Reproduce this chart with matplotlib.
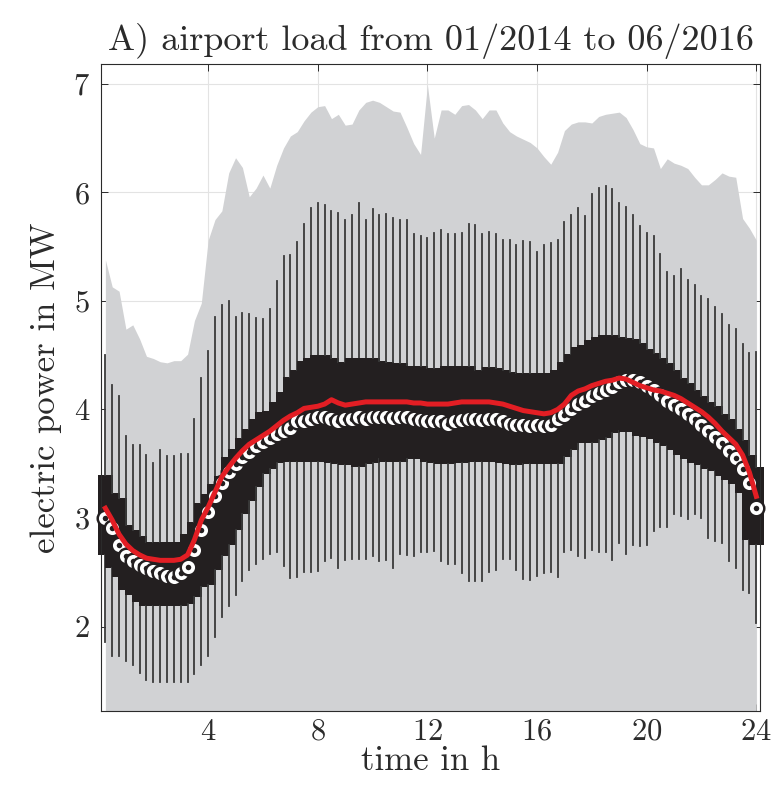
"""
Tagesgang der Flughafenlast 01/2014 - 06/2016: Boxplot je Viertelstunde,
Min/Max-Hülle grau, Median als Kreis, Mittelwert rot.
"""

import numpy as np
import matplotlib
matplotlib.use("Agg")
import matplotlib.pyplot as plt

plt.rcParams["font.family"] = "cmr10"
plt.rcParams["axes.formatter.use_mathtext"] = True

# Viertelstunden 0.25 ... 24 h
hours = np.arange(1, 97) * 0.25

# Kennwerte je Viertelstunde in MW (je Zeile 2 h)
whisker_hi = [
    4.50, 4.23, 4.12, 3.76, 3.67, 3.67, 3.58, 3.51,
    3.63, 3.57, 3.57, 3.59, 3.59, 3.91, 4.29, 4.54,
    4.85, 4.96, 5.00, 4.85, 4.89, 4.88, 4.84, 4.83,
    4.93, 5.18, 5.41, 5.42, 5.54, 5.71, 5.86, 5.90,
    5.88, 5.83, 5.81, 5.75, 5.79, 5.90, 5.75, 5.85,
    5.79, 5.80, 5.76, 5.75, 5.75, 5.62, 5.60, 5.58,
    5.63, 5.65, 5.62, 5.62, 5.63, 5.71, 5.70, 5.62,
    5.64, 5.62, 5.56, 5.56, 5.52, 5.55, 5.54, 5.45,
    5.52, 5.53, 5.56, 5.73, 5.79, 5.86, 5.78, 5.99,
    6.04, 6.06, 6.03, 5.90, 5.87, 5.79, 5.69, 5.63,
    5.60, 5.43, 5.27, 5.23, 5.29, 5.19, 5.15, 5.05,
    5.02, 4.94, 4.88, 4.78, 4.74, 4.60, 4.52, 4.53,
]
q3 = [
    3.40, 3.23, 3.18, 2.94, 2.89, 2.83, 2.78, 2.78,
    2.78, 2.78, 2.78, 2.78, 2.85, 2.96, 3.14, 3.22,
    3.31, 3.39, 3.56, 3.64, 3.74, 3.82, 3.91, 3.98,
    3.99, 4.07, 4.16, 4.30, 4.36, 4.45, 4.47, 4.50,
    4.50, 4.47, 4.44, 4.44, 4.47, 4.47, 4.47, 4.47,
    4.45, 4.44, 4.43, 4.43, 4.40, 4.40, 4.40, 4.38,
    4.38, 4.36, 4.40, 4.40, 4.40, 4.40, 4.36, 4.36,
    4.39, 4.38, 4.36, 4.35, 4.34, 4.34, 4.34, 4.33,
    4.34, 4.34, 4.36, 4.44, 4.51, 4.58, 4.59, 4.64,
    4.67, 4.69, 4.69, 4.67, 4.66, 4.65, 4.61, 4.56,
    4.52, 4.47, 4.43, 4.36, 4.29, 4.24, 4.18, 4.12,
    4.07, 4.03, 3.96, 3.91, 3.82, 3.72, 3.58, 3.47,
]
median = [
    3.00, 2.91, 2.75, 2.65, 2.60, 2.57, 2.54, 2.51,
    2.49, 2.47, 2.46, 2.49, 2.55, 2.71, 2.89, 3.06,
    3.20, 3.32, 3.42, 3.50, 3.56, 3.61, 3.66, 3.70,
    3.74, 3.77, 3.80, 3.83, 3.89, 3.89, 3.91, 3.93,
    3.93, 3.91, 3.89, 3.91, 3.91, 3.93, 3.91, 3.93,
    3.93, 3.93, 3.92, 3.93, 3.93, 3.91, 3.90, 3.89,
    3.89, 3.89, 3.87, 3.89, 3.90, 3.91, 3.91, 3.90,
    3.91, 3.91, 3.89, 3.87, 3.86, 3.86, 3.85, 3.86,
    3.85, 3.86, 3.91, 3.95, 4.00, 4.05, 4.08, 4.12,
    4.15, 4.18, 4.21, 4.25, 4.27, 4.27, 4.25, 4.22,
    4.18, 4.13, 4.08, 4.04, 4.00, 3.96, 3.91, 3.86,
    3.80, 3.75, 3.69, 3.62, 3.55, 3.45, 3.32, 3.09,
]
q1 = [
    2.66, 2.54, 2.46, 2.34, 2.29, 2.23, 2.19, 2.19,
    2.19, 2.19, 2.19, 2.19, 2.21, 2.27, 2.36, 2.38,
    2.52, 2.65, 2.75, 2.89, 3.04, 3.16, 3.29, 3.41,
    3.45, 3.51, 3.52, 3.52, 3.52, 3.52, 3.52, 3.52,
    3.53, 3.51, 3.50, 3.49, 3.49, 3.47, 3.50, 3.51,
    3.54, 3.52, 3.52, 3.52, 3.54, 3.55, 3.54, 3.52,
    3.51, 3.50, 3.50, 3.51, 3.51, 3.52, 3.52, 3.52,
    3.52, 3.52, 3.51, 3.50, 3.49, 3.50, 3.50, 3.50,
    3.50, 3.50, 3.50, 3.56, 3.63, 3.69, 3.69, 3.69,
    3.72, 3.74, 3.78, 3.80, 3.79, 3.79, 3.76, 3.75,
    3.73, 3.69, 3.66, 3.63, 3.58, 3.54, 3.51, 3.49,
    3.45, 3.43, 3.39, 3.35, 3.31, 3.23, 2.80, 2.75,
]
whisker_lo = [
    1.86, 1.73, 1.73, 1.68, 1.65, 1.57, 1.51, 1.49,
    1.49, 1.49, 1.49, 1.49, 1.49, 1.56, 1.65, 1.73,
    1.90, 2.09, 2.19, 2.29, 2.42, 2.52, 2.58, 2.62,
    2.67, 2.69, 2.56, 2.45, 2.46, 2.50, 2.50, 2.51,
    2.60, 2.63, 2.54, 2.61, 2.62, 2.62, 2.62, 2.65,
    2.60, 2.61, 2.54, 2.67, 2.66, 2.65, 2.69, 2.69,
    2.70, 2.60, 2.58, 2.58, 2.49, 2.42, 2.42, 2.42,
    2.50, 2.52, 2.62, 2.62, 2.52, 2.44, 2.43, 2.47,
    2.49, 2.50, 2.46, 2.69, 2.71, 2.65, 2.63, 2.71,
    2.69, 2.69, 2.61, 2.77, 2.67, 2.75, 2.74, 2.75,
    2.88, 2.92, 2.92, 3.04, 3.02, 2.99, 3.04, 3.00,
    2.82, 2.79, 2.77, 2.60, 2.54, 2.34, 2.31, 2.03,
]
mean = [
    3.09, 2.98, 2.85, 2.76, 2.70, 2.66, 2.63, 2.62,
    2.61, 2.61, 2.61, 2.62, 2.66, 2.80, 2.98, 3.10,
    3.24, 3.38, 3.47, 3.55, 3.62, 3.68, 3.72, 3.76,
    3.80, 3.85, 3.90, 3.94, 3.97, 4.01, 4.02, 4.03,
    4.05, 4.09, 4.06, 4.04, 4.05, 4.06, 4.07, 4.07,
    4.07, 4.07, 4.07, 4.07, 4.07, 4.06, 4.06, 4.05,
    4.05, 4.05, 4.05, 4.06, 4.07, 4.07, 4.07, 4.07,
    4.07, 4.06, 4.05, 4.03, 4.01, 3.99, 3.98, 3.97,
    3.96, 3.97, 4.00, 4.05, 4.13, 4.17, 4.19, 4.22,
    4.24, 4.26, 4.27, 4.29, 4.28, 4.25, 4.22, 4.20,
    4.18, 4.17, 4.15, 4.13, 4.10, 4.06, 4.02, 3.98,
    3.93, 3.87, 3.80, 3.74, 3.68, 3.58, 3.42, 3.20,
]
load_max = [
    5.38, 5.13, 5.09, 4.74, 4.78, 4.65, 4.49, 4.47,
    4.44, 4.43, 4.45, 4.45, 4.51, 4.82, 4.98, 5.56,
    5.75, 5.83, 6.18, 6.32, 6.23, 5.96, 6.04, 6.16,
    6.04, 6.25, 6.41, 6.52, 6.56, 6.66, 6.74, 6.79,
    6.80, 6.68, 6.72, 6.62, 6.63, 6.76, 6.83, 6.85,
    6.83, 6.79, 6.75, 6.74, 6.60, 6.45, 6.35, 6.99,
    6.50, 6.76, 6.76, 6.72, 6.80, 6.81, 6.76, 6.68,
    6.76, 6.76, 6.64, 6.56, 6.52, 6.49, 6.46, 6.41,
    6.33, 6.26, 6.37, 6.57, 6.63, 6.65, 6.65, 6.64,
    6.70, 6.72, 6.73, 6.74, 6.69, 6.58, 6.45, 6.42,
    6.41, 6.22, 6.31, 6.27, 6.25, 6.22, 6.14, 6.07,
    6.07, 6.12, 6.18, 6.15, 6.14, 5.76, 5.67, 5.56,
]
load_min = 1.0  # Minimum liegt überall unterhalb der Achse

GRAY = "#d1d2d4"
BLACK = "#231f20"
WHISKER = "#3a3a3a"
RED = "#e31e24"
TEXT = "#2b2b2b"

fig = plt.figure(figsize=(7.73, 7.85), dpi=100)
ax = fig.add_axes([0.131, 0.094, 0.852, 0.824])

ax.fill_between(hours, load_min, load_max, color=GRAY, lw=0, zorder=1)

stats = [
    dict(med=m, q1=a, q3=b, whislo=lo, whishi=hi, fliers=[])
    for m, a, b, lo, hi in zip(median, q1, q3, whisker_lo, whisker_hi)
]
bp = ax.bxp(stats, positions=hours, widths=0.55, patch_artist=True,
            showcaps=False, showfliers=False, manage_ticks=False,
            boxprops=dict(facecolor=BLACK, edgecolor="none", linewidth=0),
            whiskerprops=dict(color=WHISKER, linewidth=1.3),
            medianprops=dict(linewidth=0))
for art in bp["boxes"]:
    art.set_zorder(2)
    art.set_clip_on(False)
for art in bp["whiskers"]:
    art.set_zorder(2)

# Median: schwarzer Kreis mit weissem Ring
for x, m in zip(hours, median):
    ax.plot(x, m, "o", ms=13, mfc=BLACK, mec="none", zorder=3, clip_on=False)
    ax.plot(x, m, "o", ms=6.7, mfc=BLACK, mec="white", mew=2.7,
            zorder=3, clip_on=False)

ax.plot(hours, mean, color=RED, lw=3.6, zorder=4, clip_on=False)

ax.set_xlim(0.1, 24.13)
ax.set_ylim(1.22, 7.18)
ax.set_xticks([4, 8, 12, 16, 20, 24])
ax.set_yticks([2, 3, 4, 5, 6, 7])
ax.set_axisbelow(True)
ax.grid(True, color="#e3e3e3", lw=0.8)
ax.tick_params(direction="in", top=True, right=True, length=5, width=0.7,
               color=TEXT, labelcolor=TEXT, labelsize=22)
ax.tick_params(axis="x", pad=5)
ax.tick_params(axis="y", pad=8)
for sp in ax.spines.values():
    sp.set_color(TEXT)
    sp.set_linewidth(0.8)

ax.set_xlabel("time in h", fontsize=25, color=TEXT, labelpad=0)
ax.set_ylabel("electric power in MW", fontsize=25, color=TEXT, labelpad=8)
ax.set_title("A) airport load from 01/2014 to 06/2016", fontsize=26,
             color=TEXT, pad=10)

fig.savefig("out.png", dpi=100)
plt.close(fig)
